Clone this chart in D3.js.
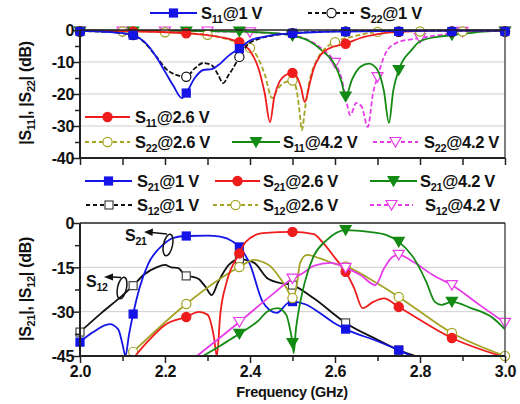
<!DOCTYPE html>
<html><head><meta charset="utf-8">
<script src="https://cdn.jsdelivr.net/npm/d3@7"></script>
<style>
body{margin:0;background:#fff}
svg{display:block}
text{font-family:"Liberation Sans",Arial,Helvetica,sans-serif;font-weight:bold;fill:#111}
</style>
</head><body>
<svg id="c" width="520" height="404"></svg>
<script>
// ---------------- DATA ----------------
const freqTickLabels = ["2.0","2.2","2.4","2.6","2.8","3.0"];
const freqMajor = [2.0,2.2,2.4,2.6,2.8,3.0];
const freqMinor = [2.1,2.3,2.5,2.7,2.9];
const topYTicks = [0,-10,-20,-30,-40];
const topYMinor = [-5,-15,-25,-35];
const botYTicks = [0,-15,-30,-45];
const botYMinor = [-7.5,-22.5,-37.5];
const marksEighth = [2.0,2.125,2.25,2.375,2.5,2.625,2.75,2.875,3.0];
const marksTenth = [2.0,2.1,2.2,2.3,2.4,2.5,2.6,2.7,2.8,2.9,3.0];

// top panel |S11|, |S22| (dB)
const s11_1V = [[2.0,-0.3],[2.05,-0.5],[2.1,-1.0],[2.125,-1.6],[2.15,-3.5],[2.18,-8.5],[2.2,-13],[2.22,-17.5],[2.24,-21.3],[2.25,-19.7],[2.27,-15],[2.29,-12.5],[2.31,-12.2],[2.33,-10.5],[2.35,-8],[2.375,-5.8],[2.40,-3.3],[2.43,-2.2],[2.47,-1.3],[2.5,-1.0],[2.55,-0.7],[2.625,-0.5],[2.75,-0.3],[2.875,-0.2],[3.0,-0.2]];
const s22_1V = [[2.0,-0.3],[2.05,-0.5],[2.1,-1.0],[2.125,-1.6],[2.15,-3.7],[2.18,-8.4],[2.21,-13],[2.25,-14.6],[2.27,-12],[2.29,-10.3],[2.31,-11],[2.325,-14],[2.337,-16.6],[2.35,-14],[2.36,-12],[2.375,-8.4],[2.395,-4.5],[2.42,-2.8],[2.45,-1.8],[2.5,-1.0],[2.55,-0.6],[2.625,-0.3],[2.75,-0.2],[2.875,-0.2],[3.0,-0.2]];
const s11_26V = [[2.0,-0.2],[2.125,-0.4],[2.25,-1.0],[2.3,-1.6],[2.35,-2.8],[2.375,-3.8],[2.40,-6.5],[2.42,-12],[2.435,-20],[2.447,-28.8],[2.457,-21],[2.47,-16],[2.485,-14],[2.5,-13.4],[2.51,-14.5],[2.52,-18],[2.529,-22.5],[2.54,-17],[2.55,-12],[2.565,-8],[2.59,-5.5],[2.625,-4.3],[2.66,-2.5],[2.7,-1.3],[2.75,-0.6],[2.875,-0.2],[3.0,-0.2]];
const s22_26V = [[2.0,-0.2],[2.1,-0.3],[2.2,-0.7],[2.3,-1.5],[2.35,-3],[2.4,-5.6],[2.42,-9],[2.435,-14],[2.452,-21.3],[2.465,-18.5],[2.48,-16.5],[2.5,-15.8],[2.51,-19],[2.517,-26],[2.522,-31.3],[2.53,-24],[2.54,-16],[2.555,-10],[2.575,-6],[2.6,-3.8],[2.65,-1.8],[2.7,-0.6],[2.8,-0.2],[2.9,-0.1],[3.0,-0.1]];
const s11_42V = [[2.0,-0.1],[2.125,-0.2],[2.25,-0.3],[2.375,-0.5],[2.45,-0.9],[2.5,-1.8],[2.54,-3.5],[2.57,-6.5],[2.6,-11],[2.615,-16],[2.625,-20.8],[2.64,-15.5],[2.66,-11.5],[2.68,-10.5],[2.70,-12.5],[2.715,-19],[2.727,-29],[2.737,-19],[2.75,-12.5],[2.78,-6.3],[2.80,-3.5],[2.85,-2],[2.875,-1.6],[2.95,-0.5],[3.0,-0.2]];
const s22_42V = [[2.0,-0.2],[2.1,-0.3],[2.2,-0.3],[2.3,-0.4],[2.4,-0.7],[2.45,-1.0],[2.5,-1.6],[2.54,-3.3],[2.57,-6],[2.6,-10.3],[2.615,-15],[2.625,-21],[2.636,-26.6],[2.65,-22.8],[2.663,-24],[2.677,-30.3],[2.69,-19.4],[2.7,-14.7],[2.72,-7],[2.745,-4],[2.8,-2.5],[2.85,-1.5],[2.9,-0.6],[2.95,-0.3],[3.0,-0.3]];

// bottom panel |S21|, |S12| (dB)
const s21_1V = [[2.0,-40.3],[2.03,-37],[2.07,-34.2],[2.09,-36],[2.10,-41],[2.107,-45],[2.115,-38],[2.125,-30.8],[2.14,-22],[2.16,-14],[2.195,-7.4],[2.22,-5],[2.25,-4.4],[2.30,-4.3],[2.33,-4.6],[2.36,-6.3],[2.375,-8.1],[2.40,-14],[2.43,-26.7],[2.463,-30.4],[2.49,-27],[2.5,-26.6],[2.53,-27.5],[2.56,-30],[2.60,-34],[2.625,-35.9],[2.70,-40],[2.75,-43],[2.78,-45]];
const s12_1V = [[2.0,-36.9],[2.05,-30.5],[2.1,-24.5],[2.125,-21.2],[2.15,-17.5],[2.18,-15],[2.2,-14.2],[2.215,-15],[2.23,-15.2],[2.25,-17.9],[2.265,-18.2],[2.28,-19],[2.295,-21.5],[2.31,-24.4],[2.325,-20],[2.35,-14.2],[2.375,-12.2],[2.41,-13.5],[2.44,-18.6],[2.47,-20.3],[2.5,-21],[2.55,-25.5],[2.625,-33.8],[2.7,-39.5],[2.75,-43],[2.79,-45]];
const s21_26V = [[2.13,-45],[2.16,-40],[2.2,-34.5],[2.25,-31.8],[2.28,-30.1],[2.30,-31],[2.315,-38.5],[2.322,-45],[2.33,-31],[2.345,-20],[2.375,-10.3],[2.39,-6.4],[2.43,-3.4],[2.5,-3.0],[2.55,-3.8],[2.57,-6.4],[2.6,-11.8],[2.625,-16.5],[2.645,-22],[2.665,-28.8],[2.69,-26.7],[2.715,-25.5],[2.75,-28.4],[2.875,-38.9],[2.99,-45]];
const s12_26V = [[2.125,-43.6],[2.25,-27.4],[2.375,-14.9],[2.41,-12.5],[2.43,-13.2],[2.447,-14.5],[2.47,-18.5],[2.486,-22],[2.5,-25.4],[2.51,-21],[2.518,-13.5],[2.534,-10.8],[2.565,-12],[2.6,-13.8],[2.625,-14.7],[2.7,-20.5],[2.75,-25],[2.875,-37.2],[3.0,-45]];
const s21_42V = [[2.29,-45],[2.33,-41.5],[2.375,-37.5],[2.42,-33],[2.44,-30],[2.465,-28.8],[2.485,-31],[2.493,-35],[2.5,-40.6],[2.503,-44],[2.508,-36],[2.513,-31],[2.529,-20],[2.548,-11.8],[2.581,-5.7],[2.625,-2.4],[2.68,-3],[2.72,-4],[2.75,-6.4],[2.785,-11.8],[2.815,-20],[2.835,-26.7],[2.85,-27.7],[2.875,-26.7],[2.92,-28.8],[2.97,-32],[3.0,-36]];
const s12_42V = [[2.275,-45],[2.375,-33.5],[2.45,-24.5],[2.5,-18.8],[2.525,-16.9],[2.55,-14.5],[2.59,-13.5],[2.625,-15.2],[2.66,-17.6],[2.695,-21],[2.715,-15.5],[2.735,-11.5],[2.75,-10.8],[2.785,-13.2],[2.83,-17.6],[2.875,-21],[2.94,-27.7],[3.0,-33.8]];

// ---------------- DRAW ----------------
const svg = d3.select("#c");
const x = d3.scaleLinear().domain([2,3]).range([80,505]);
const yTop = d3.scaleLinear().domain([-40,0]).range([158,30]);
const yBot = d3.scaleLinear().domain([-45,0]).range([356,223]);

const C = {blue:"#1414e6", red:"#ee1c1c", green:"#138a13", olive:"#a3a324", mag:"#e83ce8", black:"#111"};

const defs = svg.append("defs");
function clip(id, y){
  defs.append("clipPath").attr("id",id).append("rect")
    .attr("x",x(2)).attr("y",y(0)-1).attr("width",x(3)-x(2)).attr("height",y.range()[0]-y(0)+2);
}
clip("ct", yTop); clip("cb", yBot);

function grid(y, vals){
  svg.append("g").selectAll("line").data(vals).join("line")
    .attr("x1",x(2)).attr("x2",x(3)).attr("y1",d=>y(d)).attr("y2",d=>y(d))
    .attr("stroke","#cfcfcf").attr("stroke-width",1);
}
grid(yTop,[-10,-20,-30]);
grid(yBot,[-15,-30]);

function symbol(g, type, cx, cy, color, filled){
  const fill = filled ? color : "#fff";
  if(type==="square"){
    g.append("rect").attr("x",cx-4).attr("y",cy-4).attr("width",8).attr("height",8)
      .attr("fill",fill).attr("stroke",filled?color:"#444").attr("stroke-width",1.2);
  } else if(type==="circle"){
    g.append("circle").attr("cx",cx).attr("cy",cy).attr("r",4.6)
      .attr("fill",fill).attr("stroke",color).attr("stroke-width",1.2);
  } else {
    g.append("path").attr("d",`M${cx-5.5},${cy-4.5}L${cx+5.5},${cy-4.5}L${cx},${cy+5}Z`)
      .attr("fill",fill).attr("stroke",color).attr("stroke-width",1.2);
  }
}

function series(y, clipId, data, marks, color, dash, type, filled){
  const g = svg.append("g");
  const line = d3.line().x(d=>x(d[0])).y(d=>y(d[1])).curve(d3.curveMonotoneX);
  g.append("path").datum(data).attr("d",line).attr("fill","none")
    .attr("stroke",color).attr("stroke-width",1.8)
    .attr("stroke-dasharray",dash||null).attr("clip-path",`url(#${clipId})`);
  data.filter(d=>marks.some(m=>Math.abs(m-d[0])<1e-6)).forEach(d=>{
    symbol(g, type, x(d[0]), Math.max(y(d[1]), y(0)+1.5), color, filled);
  });
}

// top panel curves
series(yTop,"ct",s22_42V,marksTenth,C.mag,"5,2.5","tri",false);
series(yTop,"ct",s11_42V,marksEighth,C.green,null,"tri",true);
series(yTop,"ct",s22_26V,marksTenth,C.olive,"5,2.5","circle",false);
series(yTop,"ct",s11_26V,marksEighth,C.red,null,"circle",true);
series(yTop,"ct",s22_1V,marksEighth,C.black,"5,2","circle",false);
series(yTop,"ct",s11_1V,marksEighth,C.blue,null,"square",true);

// bottom panel curves
series(yBot,"cb",s12_1V,marksEighth,C.black,null,"square",false);
series(yBot,"cb",s21_1V,marksEighth,C.blue,null,"square",true);
series(yBot,"cb",s12_26V,marksEighth,C.olive,null,"circle",false);
series(yBot,"cb",s21_26V,marksEighth,C.red,null,"circle",true);
series(yBot,"cb",s12_42V,marksEighth,C.mag,null,"tri",false);
series(yBot,"cb",s21_42V,marksEighth.filter(m=>m<3),C.green,null,"tri",true);

// axes
function frame(y){
  const t=y(0), b=y.range()[0];
  svg.append("line").attr("x1",x(3)).attr("x2",x(3)).attr("y1",t).attr("y2",b).attr("stroke","#555").attr("stroke-width",1.5);
  svg.append("line").attr("x1",x(2)).attr("x2",x(3)).attr("y1",t).attr("y2",t).attr("stroke","#222").attr("stroke-width",1.6);
  svg.append("line").attr("x1",x(2)).attr("x2",x(3)).attr("y1",b).attr("y2",b).attr("stroke","#222").attr("stroke-width",2);
  svg.append("line").attr("x1",x(2)).attr("x2",x(2)).attr("y1",t).attr("y2",b).attr("stroke","#222").attr("stroke-width",2);
}
frame(yTop); frame(yBot);

function yAxis(y, major, minor){
  const gM = svg.append("g").attr("transform",`translate(${x(2)},0)`)
    .call(d3.axisLeft(y).tickValues(major).tickSize(7).tickPadding(-1).tickFormat(d=>d===0?"0":"-"+Math.abs(d)));
  gM.select(".domain").remove();
  gM.selectAll("line").attr("stroke","#222").attr("stroke-width",1.5);
  gM.selectAll("text").attr("font-size",16).attr("font-family",null).attr("fill","#111").attr("dy","0.36em").attr("letter-spacing","-0.3");
  const gm = svg.append("g").attr("transform",`translate(${x(2)},0)`)
    .call(d3.axisLeft(y).tickValues(minor).tickSize(5).tickFormat(""));
  gm.select(".domain").remove();
  gm.selectAll("line").attr("stroke","#222").attr("stroke-width",1.5);
}
yAxis(yTop, topYTicks, topYMinor);
yAxis(yBot, botYTicks, botYMinor);

function xAxis(y, labels){
  const b = y.range()[0];
  const g = svg.append("g").attr("transform",`translate(0,${b})`)
    .call(d3.axisBottom(x).tickValues(freqMajor).tickSize(7).tickPadding(3)
      .tickFormat((d,i)=>labels?freqTickLabels[i]:""));
  g.select(".domain").remove();
  g.selectAll("line").attr("stroke","#222").attr("stroke-width",1.5);
  g.selectAll("text").attr("font-size",16).attr("font-family",null).attr("fill","#111").attr("letter-spacing","-0.3");
  const gm = svg.append("g").attr("transform",`translate(0,${b})`)
    .call(d3.axisBottom(x).tickValues(freqMinor).tickSize(labels?5:7).tickFormat(""));
  gm.select(".domain").remove();
  gm.selectAll("line").attr("stroke","#222").attr("stroke-width",1.5);
}
xAxis(yTop,false);
xAxis(yBot,true);

// text helpers
function sLabel(parent, tx, ty, sub, rest, size){
  size = size||16.5;
  const t = parent.append("text").attr("x",tx).attr("y",ty).attr("font-size",size).attr("letter-spacing","-0.3");
  t.append("tspan").text("S");
  t.append("tspan").attr("font-size",size*0.66).attr("dy",4).text(sub);
  t.append("tspan").attr("dy",-4).text(rest);
  return t;
}
function legendItem(x1,x2,ly,color,dash,type,filled,sub,rest,tx){
  const g = svg.append("g");
  g.append("line").attr("x1",x1).attr("x2",x2).attr("y1",ly).attr("y2",ly)
    .attr("stroke",color).attr("stroke-width",1.8).attr("stroke-dasharray",dash||null);
  symbol(g,type,(x1+x2)/2,ly,color,filled);
  sLabel(g,tx,ly+6,sub,rest);
}
// top legend
legendItem(150,197,13,C.blue,null,"square",true,"11","@1 V",201);
legendItem(308,355,13,C.black,"4,3","circle",false,"22","@1 V",360);
legendItem(85,130,117,C.red,null,"circle",true,"11","@2.6 V",135);
legendItem(85,130,142,C.olive,"4,3","circle",false,"22","@2.6 V",135);
legendItem(232,280,142,C.green,null,"tri",true,"11","@4.2 V",283);
legendItem(373,418,142,C.mag,"4,3","tri",false,"22","@4.2 V",424);
// bottom legend
legendItem(85,132,181,C.blue,null,"square",true,"21","@1 V",137);
legendItem(215,260,181,C.red,null,"circle",true,"21","@2.6 V",263);
legendItem(370,417,181,C.green,null,"tri",true,"21","@4.2 V",420);
legendItem(86,132,205,C.black,"4,3","square",false,"12","@1 V",137);
legendItem(213,258,205,C.olive,"4,3","circle",false,"12","@2.6 V",263);
legendItem(370,413,205,C.mag,"4,3","tri",false,"12","@4.2 V",425);

// annotations S21 / S12
const ann = svg.append("g");
sLabel(ann,125,241,"21","",16);
sLabel(ann,86,287,"12","",16);
ann.append("ellipse").attr("cx",168).attr("cy",245).attr("rx",4.5).attr("ry",11)
  .attr("transform","rotate(12,168,245)").attr("fill","none").attr("stroke","#111").attr("stroke-width",1.5);
ann.append("ellipse").attr("cx",122).attr("cy",288).attr("rx",4.5).attr("ry",11)
  .attr("transform","rotate(12,122,288)").attr("fill","none").attr("stroke","#111").attr("stroke-width",1.5);
ann.append("path").attr("d","M167,234 L152,232.5").attr("stroke","#111").attr("stroke-width",1.5).attr("fill","none");
ann.append("path").attr("d","M144,232 L153,228.5 L152.5,236 Z").attr("fill","#111");
ann.append("path").attr("d","M121,277.5 L112,277").attr("stroke","#111").attr("stroke-width",1.5).attr("fill","none");
ann.append("path").attr("d","M104,277 L113,273.5 L113,280.5 Z").attr("fill","#111");

// axis titles
svg.append("text").attr("x",292).attr("y",397).attr("text-anchor","middle").attr("font-size",14.5).attr("letter-spacing","-0.3").text("Frequency (GHz)");
function yTitle(cx, cy, a, b){
  const t = svg.append("text").attr("transform",`translate(${cx},${cy}) rotate(-90)`)
    .attr("text-anchor","middle").attr("font-size",16).attr("letter-spacing","-0.3");
  t.append("tspan").text("|S");
  t.append("tspan").attr("font-size",11).attr("dy",4).text(a);
  t.append("tspan").attr("dy",-4).text("|, |S");
  t.append("tspan").attr("font-size",11).attr("dy",4).text(b);
  t.append("tspan").attr("dy",-4).text("| (dB)");
}
yTitle(31,93,"11","22");
yTitle(31,289,"21","12");
</script>
</body></html>
